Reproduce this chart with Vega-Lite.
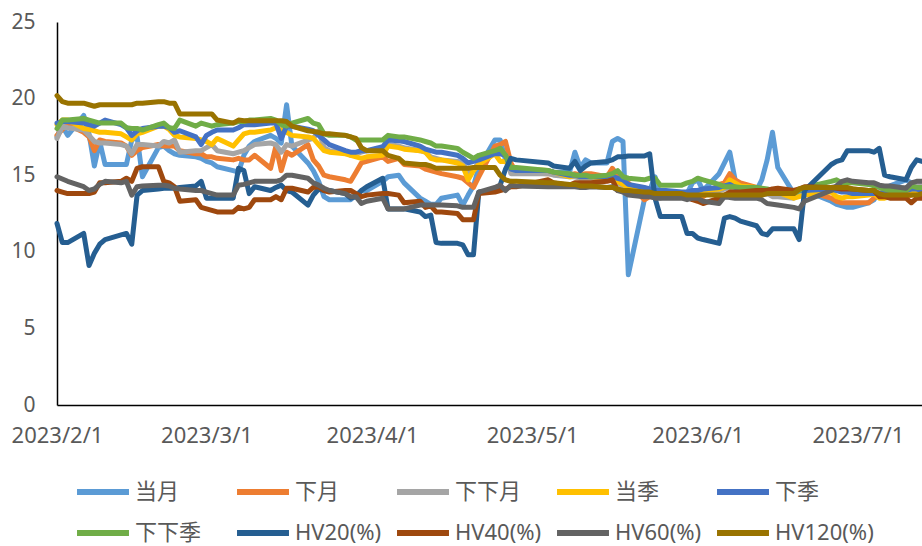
{
"$schema":"https://vega.github.io/schema/vega-lite/v6.json",
"width":865,"height":383,
"autosize":{"type":"none"},
"padding":{"left":57,"top":22,"right":0,"bottom":141},
"background":"white",
"config":{"view":{"stroke":null},"font":"Noto Sans, Noto Sans CJK SC","axis":{"labelFont":"Noto Sans","labelColor":"#595959","labelFontSize":21},"legend":{"labelFont":"Noto Sans, Noto Sans CJK SC"}},
"data":{"values":[
{"t":"2023-02-01","a":17.5,"b":17.6,"c":17.4,"d":18.3,"e":18.4,"f":18.05,"g":11.85,"h":14.0,"i":14.9,"j":20.2},
{"t":"2023-02-02","a":18.2,"b":18.0,"c":18.2,"d":18.6,"e":18.5,"f":18.6,"g":10.6,"h":13.9,"i":14.75,"j":19.8},
{"t":"2023-02-03","a":17.6,"b":18.3,"c":18.1,"d":18.6,"e":18.5,"f":18.6,"g":10.6,"h":13.8,"i":14.6,"j":19.7},
{"t":"2023-02-06","a":18.9,"b":17.8,"c":17.95,"d":18.05,"e":18.4,"f":18.7,"g":11.2,"h":13.8,"i":14.25,"j":19.7},
{"t":"2023-02-07","a":17.7,"b":17.5,"c":17.6,"d":18.0,"e":18.3,"f":18.6,"g":9.1,"h":13.8,"i":14.0,"j":19.6},
{"t":"2023-02-08","a":15.6,"b":16.6,"c":17.2,"d":17.9,"e":18.2,"f":18.5,"g":9.9,"h":13.9,"i":14.1,"j":19.5},
{"t":"2023-02-09","a":17.2,"b":17.3,"c":17.1,"d":17.8,"e":18.4,"f":18.4,"g":10.5,"h":14.5,"i":14.4,"j":19.6},
{"t":"2023-02-10","a":15.7,"b":17.2,"c":17.1,"d":17.8,"e":18.6,"f":18.4,"g":10.8,"h":14.5,"i":14.6,"j":19.6},
{"t":"2023-02-13","a":15.7,"b":17.1,"c":17.0,"d":17.7,"e":18.3,"f":18.4,"g":11.1,"h":14.6,"i":14.5,"j":19.6},
{"t":"2023-02-14","a":15.7,"b":16.9,"c":16.9,"d":17.5,"e":18.1,"f":18.1,"g":11.2,"h":14.8,"i":14.6,"j":19.6},
{"t":"2023-02-15","a":17.3,"b":16.3,"c":16.4,"d":17.3,"e":17.6,"f":18.05,"g":10.5,"h":14.6,"i":13.7,"j":19.6},
{"t":"2023-02-16","a":17.5,"b":16.6,"c":17.0,"d":17.7,"e":17.9,"f":18.05,"g":13.7,"h":15.45,"i":14.25,"j":19.7},
{"t":"2023-02-17","a":14.9,"b":16.8,"c":17.0,"d":17.8,"e":18.05,"f":17.95,"g":14.0,"h":15.55,"i":14.3,"j":19.7},
{"t":"2023-02-20","a":16.8,"b":17.0,"c":16.9,"d":18.2,"e":18.2,"f":18.3,"g":14.1,"h":15.55,"i":14.35,"j":19.8},
{"t":"2023-02-21","a":16.9,"b":16.9,"c":17.2,"d":18.2,"e":18.2,"f":18.4,"g":14.15,"h":14.6,"i":14.35,"j":19.8},
{"t":"2023-02-22","a":16.6,"b":16.9,"c":17.1,"d":18.0,"e":18.1,"f":18.1,"g":14.15,"h":14.5,"i":14.3,"j":19.7},
{"t":"2023-02-23","a":16.4,"b":16.9,"c":17.3,"d":17.6,"e":17.8,"f":18.05,"g":14.15,"h":14.25,"i":14.15,"j":19.7},
{"t":"2023-02-24","a":16.3,"b":16.6,"c":16.5,"d":17.5,"e":17.9,"f":18.6,"g":14.2,"h":13.3,"i":14.1,"j":19.0},
{"t":"2023-02-27","a":16.2,"b":16.4,"c":16.6,"d":17.4,"e":17.5,"f":18.2,"g":14.3,"h":13.4,"i":14.0,"j":19.0},
{"t":"2023-02-28","a":16.1,"b":16.4,"c":16.6,"d":17.3,"e":17.0,"f":18.4,"g":14.6,"h":12.9,"i":14.0,"j":19.0},
{"t":"2023-03-01","a":15.9,"b":16.2,"c":16.8,"d":17.2,"e":17.6,"f":18.3,"g":13.5,"h":12.8,"i":13.9,"j":19.0},
{"t":"2023-03-02","a":15.8,"b":16.2,"c":17.0,"d":17.0,"e":17.8,"f":18.2,"g":13.5,"h":12.7,"i":13.8,"j":19.0},
{"t":"2023-03-03","a":15.55,"b":16.1,"c":16.6,"d":17.4,"e":17.95,"f":18.3,"g":13.5,"h":12.6,"i":13.7,"j":18.6},
{"t":"2023-03-06","a":15.3,"b":16.0,"c":16.4,"d":16.9,"e":17.95,"f":18.4,"g":13.5,"h":12.6,"i":13.7,"j":18.4},
{"t":"2023-03-07","a":15.2,"b":16.1,"c":16.5,"d":17.3,"e":18.1,"f":18.5,"g":15.45,"h":12.9,"i":14.35,"j":18.6},
{"t":"2023-03-08","a":16.3,"b":16.0,"c":16.6,"d":17.7,"e":18.3,"f":18.5,"g":15.3,"h":12.8,"i":14.4,"j":18.55},
{"t":"2023-03-09","a":16.9,"b":16.0,"c":16.8,"d":17.8,"e":18.3,"f":18.6,"g":13.8,"h":12.9,"i":14.5,"j":18.55},
{"t":"2023-03-10","a":17.2,"b":16.3,"c":17.0,"d":17.8,"e":18.3,"f":18.6,"g":14.25,"h":13.4,"i":14.6,"j":18.55},
{"t":"2023-03-13","a":17.6,"b":15.45,"c":17.1,"d":17.95,"e":18.4,"f":18.7,"g":14.0,"h":13.4,"i":14.6,"j":18.55},
{"t":"2023-03-14","a":17.4,"b":16.9,"c":17.0,"d":18.1,"e":18.4,"f":18.6,"g":14.2,"h":13.6,"i":14.6,"j":18.55},
{"t":"2023-03-15","a":17.1,"b":15.3,"c":16.5,"d":17.95,"e":17.4,"f":18.3,"g":14.35,"h":13.4,"i":14.7,"j":18.55},
{"t":"2023-03-16","a":19.6,"b":16.5,"c":17.0,"d":17.8,"e":18.2,"f":18.2,"g":14.0,"h":14.15,"i":15.0,"j":18.5},
{"t":"2023-03-17","a":16.9,"b":16.3,"c":16.9,"d":17.6,"e":18.2,"f":18.4,"g":13.9,"h":14.15,"i":15.0,"j":18.2},
{"t":"2023-03-20","a":15.8,"b":17.0,"c":17.3,"d":17.5,"e":18.0,"f":18.7,"g":13.05,"h":13.9,"i":14.8,"j":17.9},
{"t":"2023-03-21","a":15.3,"b":16.0,"c":17.4,"d":17.4,"e":17.9,"f":18.4,"g":13.7,"h":14.2,"i":14.5,"j":17.85},
{"t":"2023-03-22","a":14.6,"b":15.6,"c":17.9,"d":17.0,"e":17.6,"f":18.3,"g":14.1,"h":14.25,"i":14.35,"j":17.8},
{"t":"2023-03-23","a":13.6,"b":15.0,"c":16.8,"d":16.6,"e":17.3,"f":17.7,"g":14.0,"h":14.0,"i":14.15,"j":17.7},
{"t":"2023-03-24","a":13.4,"b":14.9,"c":16.6,"d":16.5,"e":17.0,"f":17.6,"g":14.0,"h":13.9,"i":14.0,"j":17.7},
{"t":"2023-03-27","a":13.4,"b":14.7,"c":16.5,"d":16.4,"e":16.6,"f":17.6,"g":13.8,"h":14.0,"i":13.8,"j":17.6},
{"t":"2023-03-28","a":13.4,"b":14.6,"c":16.3,"d":16.3,"e":16.5,"f":17.5,"g":13.5,"h":14.0,"i":13.6,"j":17.5},
{"t":"2023-03-29","a":13.7,"b":15.2,"c":16.4,"d":16.2,"e":16.5,"f":17.3,"g":13.6,"h":13.8,"i":13.6,"j":17.4},
{"t":"2023-03-30","a":14.0,"b":15.8,"c":16.5,"d":16.1,"e":16.6,"f":17.3,"g":14.0,"h":13.6,"i":13.15,"j":16.8},
{"t":"2023-03-31","a":14.0,"b":15.9,"c":16.6,"d":16.2,"e":16.6,"f":17.3,"g":14.25,"h":13.7,"i":13.3,"j":16.6},
{"t":"2023-04-03","a":14.6,"b":16.2,"c":16.7,"d":16.3,"e":16.86,"f":17.3,"g":14.8,"h":13.8,"i":13.5,"j":16.6},
{"t":"2023-04-04","a":14.9,"b":15.9,"c":17.0,"d":16.9,"e":17.3,"f":17.6,"g":12.8,"h":13.8,"i":12.8,"j":16.3},
{"t":"2023-04-06","a":15.0,"b":16.1,"c":16.9,"d":16.8,"e":17.25,"f":17.5,"g":12.8,"h":13.7,"i":12.8,"j":16.1},
{"t":"2023-04-07","a":14.5,"b":15.7,"c":16.8,"d":16.7,"e":17.2,"f":17.5,"g":12.8,"h":13.2,"i":12.8,"j":15.8},
{"t":"2023-04-10","a":13.5,"b":15.6,"c":16.6,"d":16.6,"e":16.9,"f":17.3,"g":12.6,"h":13.3,"i":13.05,"j":15.7},
{"t":"2023-04-11","a":13.3,"b":15.4,"c":16.5,"d":16.5,"e":16.7,"f":17.2,"g":12.3,"h":12.9,"i":13.05,"j":15.7},
{"t":"2023-04-12","a":13.1,"b":15.3,"c":16.2,"d":16.1,"e":16.6,"f":17.1,"g":12.4,"h":13.0,"i":13.05,"j":15.6},
{"t":"2023-04-13","a":13.1,"b":15.2,"c":16.1,"d":16.0,"e":16.5,"f":16.9,"g":10.6,"h":12.6,"i":13.05,"j":15.45},
{"t":"2023-04-14","a":13.5,"b":15.1,"c":16.0,"d":16.0,"e":16.5,"f":16.9,"g":10.55,"h":12.6,"i":13.05,"j":15.45},
{"t":"2023-04-17","a":13.7,"b":14.9,"c":15.9,"d":15.8,"e":16.3,"f":16.75,"g":10.55,"h":12.5,"i":13.0,"j":15.45},
{"t":"2023-04-18","a":13.05,"b":14.8,"c":15.8,"d":15.6,"e":16.1,"f":16.5,"g":10.45,"h":12.1,"i":12.9,"j":15.45},
{"t":"2023-04-19","a":13.7,"b":14.5,"c":15.1,"d":14.7,"e":15.8,"f":16.3,"g":9.8,"h":12.1,"i":12.9,"j":15.45},
{"t":"2023-04-20","a":14.3,"b":14.2,"c":15.3,"d":15.3,"e":15.9,"f":16.1,"g":9.8,"h":12.1,"i":12.9,"j":15.5},
{"t":"2023-04-21","a":15.5,"b":14.9,"c":15.9,"d":15.7,"e":16.0,"f":16.3,"g":13.9,"h":13.8,"i":13.9,"j":15.5},
{"t":"2023-04-24","a":17.3,"b":16.9,"c":16.4,"d":16.4,"e":16.4,"f":16.6,"g":14.0,"h":13.9,"i":14.2,"j":15.5},
{"t":"2023-04-25","a":17.3,"b":17.0,"c":16.5,"d":15.9,"e":16.4,"f":16.75,"g":14.35,"h":14.0,"i":14.35,"j":15.0},
{"t":"2023-04-26","a":16.0,"b":17.2,"c":16.3,"d":15.9,"e":16.3,"f":16.3,"g":15.4,"h":14.1,"i":14.0,"j":14.7},
{"t":"2023-04-27","a":15.5,"b":15.8,"c":15.1,"d":15.45,"e":15.4,"f":15.5,"g":16.1,"h":14.25,"i":14.35,"j":14.6},
{"t":"2023-04-28","a":15.2,"b":15.2,"c":15.1,"d":15.4,"e":15.3,"f":15.5,"g":16.0,"h":14.25,"i":14.3,"j":14.6},
{"t":"2023-05-04","a":15.2,"b":15.1,"c":15.1,"d":15.3,"e":15.3,"f":15.3,"g":15.8,"h":14.7,"i":14.25,"j":14.5},
{"t":"2023-05-05","a":15.2,"b":15.1,"c":15.0,"d":15.2,"e":15.2,"f":15.2,"g":15.6,"h":14.5,"i":14.25,"j":14.5},
{"t":"2023-05-08","a":15.2,"b":15.0,"c":14.9,"d":14.9,"e":15.0,"f":15.1,"g":15.45,"h":14.35,"i":14.25,"j":14.4},
{"t":"2023-05-09","a":16.5,"b":15.1,"c":14.9,"d":15.0,"e":15.0,"f":15.0,"g":15.9,"h":14.5,"i":14.25,"j":14.4},
{"t":"2023-05-10","a":15.5,"b":15.0,"c":14.8,"d":14.9,"e":14.9,"f":15.0,"g":15.3,"h":14.5,"i":14.2,"j":14.3},
{"t":"2023-05-11","a":16.0,"b":15.1,"c":14.8,"d":14.9,"e":14.9,"f":15.0,"g":15.6,"h":14.5,"i":14.2,"j":14.3},
{"t":"2023-05-12","a":15.8,"b":15.1,"c":14.8,"d":14.9,"e":14.9,"f":14.9,"g":15.8,"h":14.5,"i":14.25,"j":14.3},
{"t":"2023-05-15","a":15.8,"b":14.9,"c":14.8,"d":14.8,"e":14.9,"f":15.0,"g":15.9,"h":14.6,"i":14.2,"j":14.2},
{"t":"2023-05-16","a":17.2,"b":15.45,"c":14.8,"d":14.9,"e":14.9,"f":15.1,"g":16.0,"h":14.7,"i":14.25,"j":14.2},
{"t":"2023-05-17","a":17.4,"b":15.0,"c":14.5,"d":14.6,"e":14.8,"f":15.3,"g":16.2,"h":14.0,"i":14.0,"j":14.1},
{"t":"2023-05-18","a":17.2,"b":14.8,"c":14.3,"d":14.4,"e":14.7,"f":14.9,"g":16.2,"h":14.0,"i":13.9,"j":14.0},
{"t":"2023-05-19","a":8.5,"b":14.5,"c":13.9,"d":14.2,"e":14.4,"f":14.8,"g":16.25,"h":13.9,"i":13.7,"j":14.0},
{"t":"2023-05-22","a":13.4,"b":13.4,"c":13.6,"d":13.9,"e":14.2,"f":14.7,"g":16.25,"h":13.8,"i":13.6,"j":13.9},
{"t":"2023-05-23","a":14.0,"b":13.6,"c":13.7,"d":13.8,"e":14.1,"f":14.8,"g":16.4,"h":13.7,"i":13.6,"j":13.9},
{"t":"2023-05-24","a":14.9,"b":13.6,"c":13.6,"d":13.8,"e":14.0,"f":14.8,"g":13.5,"h":13.7,"i":13.5,"j":13.8},
{"t":"2023-05-25","a":13.6,"b":13.7,"c":13.5,"d":13.7,"e":14.0,"f":14.35,"g":12.3,"h":13.7,"i":13.5,"j":13.8},
{"t":"2023-05-26","a":13.8,"b":13.7,"c":13.6,"d":13.7,"e":14.0,"f":14.35,"g":12.3,"h":13.7,"i":13.5,"j":13.8},
{"t":"2023-05-29","a":13.8,"b":13.6,"c":13.6,"d":13.7,"e":13.9,"f":14.35,"g":12.3,"h":13.7,"i":13.5,"j":13.8},
{"t":"2023-05-30","a":13.8,"b":13.6,"c":13.7,"d":13.6,"e":13.9,"f":14.5,"g":11.2,"h":13.6,"i":13.4,"j":13.7},
{"t":"2023-05-31","a":14.5,"b":13.6,"c":13.8,"d":14.0,"e":14.0,"f":14.6,"g":11.2,"h":13.4,"i":13.5,"j":13.7},
{"t":"2023-06-01","a":14.7,"b":13.6,"c":13.8,"d":13.9,"e":14.0,"f":14.8,"g":10.9,"h":13.3,"i":13.5,"j":13.7},
{"t":"2023-06-02","a":14.0,"b":13.6,"c":13.9,"d":14.0,"e":14.1,"f":14.7,"g":10.8,"h":13.15,"i":13.3,"j":13.7},
{"t":"2023-06-05","a":15.1,"b":14.4,"c":14.0,"d":14.1,"e":14.2,"f":14.4,"g":10.55,"h":13.5,"i":13.15,"j":13.7},
{"t":"2023-06-06","a":15.8,"b":14.5,"c":14.1,"d":14.2,"e":14.3,"f":14.25,"g":12.2,"h":13.7,"i":13.6,"j":13.7},
{"t":"2023-06-07","a":16.5,"b":15.1,"c":14.2,"d":14.7,"e":14.4,"f":14.25,"g":12.3,"h":13.9,"i":13.55,"j":13.7},
{"t":"2023-06-08","a":14.7,"b":14.7,"c":14.0,"d":14.5,"e":14.2,"f":14.25,"g":12.2,"h":13.9,"i":13.5,"j":13.7},
{"t":"2023-06-09","a":14.3,"b":14.5,"c":14.0,"d":14.3,"e":14.2,"f":14.2,"g":12.0,"h":13.9,"i":13.5,"j":13.7},
{"t":"2023-06-12","a":14.0,"b":14.2,"c":13.9,"d":14.2,"e":14.2,"f":14.2,"g":11.7,"h":14.0,"i":13.5,"j":13.7},
{"t":"2023-06-13","a":14.7,"b":14.0,"c":13.7,"d":14.0,"e":14.1,"f":14.15,"g":11.2,"h":14.0,"i":13.4,"j":13.7},
{"t":"2023-06-14","a":16.0,"b":13.9,"c":13.8,"d":14.0,"e":14.0,"f":14.1,"g":11.1,"h":14.0,"i":13.15,"j":13.8},
{"t":"2023-06-15","a":17.8,"b":13.8,"c":13.6,"d":13.9,"e":14.0,"f":14.0,"g":11.5,"h":14.1,"i":13.1,"j":13.8},
{"t":"2023-06-16","a":15.5,"b":13.7,"c":13.6,"d":13.9,"e":14.0,"f":14.0,"g":11.5,"h":14.15,"i":13.05,"j":13.8},
{"t":"2023-06-19","a":13.8,"b":13.6,"c":13.5,"d":13.5,"e":13.9,"f":13.8,"g":11.5,"h":14.0,"i":12.9,"j":13.8},
{"t":"2023-06-20","a":13.9,"b":14.0,"c":13.7,"d":13.6,"e":14.0,"f":14.0,"g":10.8,"h":14.1,"i":12.8,"j":14.1},
{"t":"2023-06-21","a":14.0,"b":14.0,"c":14.0,"d":13.7,"e":14.0,"f":14.2,"g":14.0,"h":14.25,"i":13.3,"j":14.2},
{"t":"2023-06-26","a":13.3,"b":13.5,"c":14.2,"d":13.9,"e":14.1,"f":14.6,"g":15.7,"h":14.2,"i":14.0,"j":14.2},
{"t":"2023-06-27","a":13.1,"b":13.3,"c":14.3,"d":13.6,"e":14.0,"f":14.7,"g":15.9,"h":14.15,"i":14.3,"j":14.2},
{"t":"2023-06-28","a":13.0,"b":13.2,"c":14.1,"d":13.5,"e":13.9,"f":14.5,"g":16.0,"h":14.1,"i":14.6,"j":14.2},
{"t":"2023-06-29","a":12.9,"b":13.2,"c":14.0,"d":13.6,"e":13.9,"f":14.5,"g":16.6,"h":14.1,"i":14.7,"j":14.2},
{"t":"2023-06-30","a":12.9,"b":13.2,"c":14.0,"d":13.6,"e":13.8,"f":14.5,"g":16.6,"h":14.1,"i":14.6,"j":14.1},
{"t":"2023-07-03","a":13.2,"b":13.2,"c":14.0,"d":13.7,"e":13.8,"f":14.4,"g":16.6,"h":14.0,"i":14.5,"j":14.0},
{"t":"2023-07-04","a":13.4,"b":13.5,"c":13.9,"d":13.8,"e":13.8,"f":14.3,"g":16.5,"h":14.0,"i":14.5,"j":14.0},
{"t":"2023-07-05","a":13.9,"b":13.7,"c":13.9,"d":13.5,"e":13.8,"f":14.2,"g":16.75,"h":13.6,"i":14.35,"j":13.8},
{"t":"2023-07-06","a":14.1,"b":13.6,"c":14.0,"d":13.5,"e":13.9,"f":14.1,"g":15.0,"h":13.6,"i":14.3,"j":13.7},
{"t":"2023-07-07","a":14.3,"b":13.6,"c":14.1,"d":13.6,"e":14.0,"f":14.0,"g":14.9,"h":13.5,"i":14.3,"j":13.7},
{"t":"2023-07-10","a":14.7,"b":13.6,"c":14.2,"d":13.7,"e":14.0,"f":14.0,"g":14.7,"h":13.5,"i":14.15,"j":13.7},
{"t":"2023-07-11","a":14.5,"b":13.7,"c":14.3,"d":13.8,"e":14.1,"f":14.3,"g":15.5,"h":13.2,"i":14.5,"j":13.7},
{"t":"2023-07-12","a":14.2,"b":13.8,"c":14.4,"d":13.9,"e":14.1,"f":14.2,"g":16.0,"h":13.5,"i":14.6,"j":13.7},
{"t":"2023-07-13","a":14.0,"b":13.8,"c":14.3,"d":13.9,"e":14.0,"f":14.2,"g":15.9,"h":13.5,"i":14.6,"j":13.8}
]},
"transform":[{"fold":["a","b","c","d","e","f","g","h","i","j"],"as":["k","v"]}],
"mark":{"type":"line","strokeWidth":5,"strokeJoin":"round","strokeCap":"round"},
"encoding":{
"x":{"field":"t","type":"temporal","scale":{"type":"utc","domain":[{"year":2023,"month":2,"date":1,"utc":true},{"year":2023,"month":7,"date":13,"utc":true}]},
"axis":{"title":null,"values":[{"year":2023,"month":2,"date":1,"utc":true},{"year":2023,"month":3,"date":1,"utc":true},{"year":2023,"month":4,"date":1,"utc":true},{"year":2023,"month":5,"date":1,"utc":true},{"year":2023,"month":6,"date":1,"utc":true},{"year":2023,"month":7,"date":1,"utc":true}],"labelExpr":"utcFormat(datum.value, '%Y/%-m/%-d')","labelFontSize":22,"grid":false,"ticks":false,"domainColor":"#000000","domainWidth":1.5,"labelPadding":20,"labelFlush":false,"labelOverlap":false}},
"y":{"field":"v","type":"quantitative","scale":{"domain":[0,25],"nice":false,"zero":true},
"axis":{"title":null,"values":[0,5,10,15,20,25],"grid":false,"ticks":false,"domainColor":"#000000","domainWidth":1.5,"labelPadding":22}},
"color":{"field":"k","type":"nominal","scale":{"domain":["a","b","c","d","e","f","g","h","i","j"],"range":["#5B9BD5","#ED7D31","#A5A5A5","#FFC000","#4472C4","#70AD47","#255E91","#9E480E","#636363","#997300"]},
"legend":{"title":null,"orient":"none","legendX":17,"legendY":441,"direction":"horizontal","columns":5,"gridAlign":"all","symbolType":"stroke","symbolSize":2700,"symbolStrokeWidth":6,"labelFontSize":22,"labelColor":"#595959","labelOffset":3,"columnPadding":-10,"rowPadding":-6,"padding":0,
"labelExpr":"{'a':'当月','b':'下月','c':'下下月','d':'当季','e':'下季','f':'下下季','g':'HV20(%)','h':'HV40(%)','i':'HV60(%)','j':'HV120(%)'}[datum.value]"}}
}
}
